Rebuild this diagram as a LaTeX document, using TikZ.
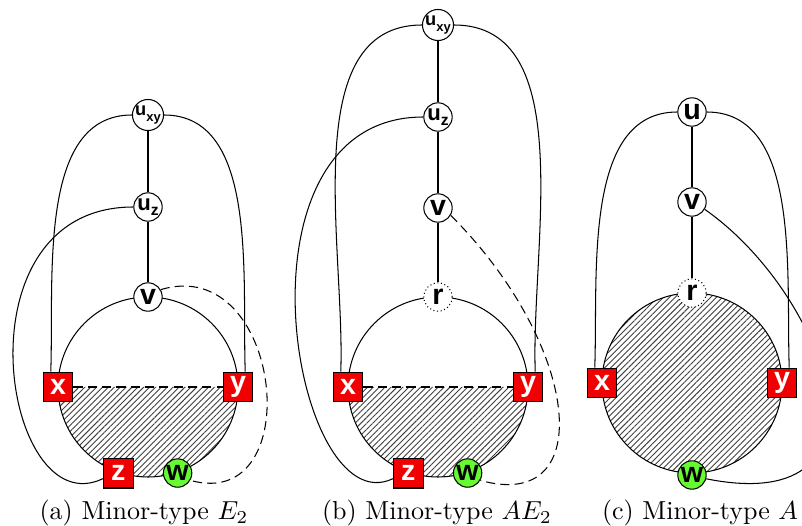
\documentclass[tikz,border=0pt]{standalone}
\usepackage{fontspec}
\newfontfamily\labelfont{Liberation Sans}
\usetikzlibrary{patterns.meta}
\definecolor{boxred}{RGB}{240,0,0}
\definecolor{wgreen}{RGB}{102,250,51}
\newcommand{\usub}[3]{{\fontsize{#1}{#1}\selectfont u}\raisebox{-.35ex}{\fontsize{#2}{#2}\selectfont #3}}

\begin{document}
\begin{tikzpicture}[x=0.0135cm,y=0.0135cm,
    every node/.append style={font=\labelfont\bfseries\fontsize{11}{11}\selectfont},
    vtx/.style={circle,draw,fill=white,inner sep=0pt,minimum size=10.9pt},
    rvtx/.style={vtx,densely dotted},
    wvtx/.style={vtx,fill=wgreen},
    term/.style={rectangle,draw,fill=boxred,text=white,inner sep=0pt,minimum size=11.5pt},
    hatch/.style={pattern={Lines[angle=45,distance=1.6pt,line width=0.35pt]},pattern color=black!75},
    dashcurve/.style={dash pattern=on 3.5pt off 2pt},
    caption/.style={font=\rmfamily\fontsize{10}{12}\selectfont}]
    \path[use as bounding box] (0,0) rectangle (802,525);

    % (a) minor-type E2
    \begin{scope}[shift={(148,138)}]
    \fill[hatch] (-90,0) arc[start angle=180,end angle=360,radius=90] -- cycle;
    \draw (0,0) circle[radius=90];
    \node[vtx] (va) at (0,90) {v};
    \node[vtx] (uza) at (0,180) {\usub{8.5}{6}{z}};
    \node[vtx] (uxya) at (0,272) {\usub{7}{5}{xy}};
    \node[term] (xa) at (-90,0) {x};
    \node[term] (ya) at (90,0) {y};
    \node[term] (za) at (251:91) {z};
    \node[wvtx] (wa) at (289:91) {w};
    \draw[dashcurve] (xa) -- (ya);
    \draw (uxya) -- (uza) -- (va);
    \draw (uxya.west) to[out=180,in=88,looseness=0.9] (xa.115);
    \draw (uxya.east) to[out=0,in=92,looseness=0.9] (ya.65);
    \draw (uza.west) .. controls +(-180,0) and +(-100,-48) .. (za.200);
    \draw[dashcurve] (va.30) .. controls +(122,37) and +(119,-33) .. (wa.-30);
    \node[caption] (capa) at (-4,-126) {(a) Minor-type $E_2$};
    \end{scope}

    % (b) minor-type AE2
    \begin{scope}[shift={(438,138)}]
    \fill[hatch] (-90,0) arc[start angle=180,end angle=360,radius=90] -- cycle;
    \draw (0,0) circle[radius=90];
    \node[rvtx] (rb) at (0,90) {r};
    \node[vtx] (vb) at (0,179) {v};
    \node[vtx] (uzb) at (0,270) {\usub{8.5}{6}{z}};
    \node[vtx] (uxyb) at (0,362) {\usub{7}{5}{xy}};
    \node[term] (xb) at (-90,0) {x};
    \node[term] (yb) at (90,0) {y};
    \node[term] (zb) at (251:91) {z};
    \node[wvtx] (wb) at (289:91) {w};
    \draw[dashcurve] (xb) -- (yb);
    \draw (uxyb) -- (uzb) -- (vb) -- (rb);
    \draw (uxyb.west) to[out=180,in=88,looseness=0.9] (xb.115);
    \draw (uxyb.east) to[out=0,in=92,looseness=0.9] (yb.65);
    \draw (uzb.west) .. controls +(-200,0) and +(-100,-48) .. (zb.200);
    \draw[dashcurve] (vb.-30) .. controls +(130,-130) and +(118,-33) .. (wb.-30);
    \node[caption] (capb) at (-1,-126) {(b) Minor-type $AE_2$};
    \end{scope}

    % (c) minor-type A
    \begin{scope}[shift={(692,142)}]
    \fill[hatch] (0,0) circle[radius=90];
    \draw (0,0) circle[radius=90];
    \node[rvtx] (rc) at (0,90) {r};
    \node[vtx] (vc) at (0,181) {v};
    \node[vtx] (uc) at (0,271) {u};
    \node[term] (xc) at (-90,0) {x};
    \node[term] (yc) at (90,0) {y};
    \node[wvtx] (wc) at (0,-92) {w};
    \draw (uc) -- (vc) -- (rc);
    \draw (uc.west) to[out=180,in=88,looseness=0.9] (xc.115);
    \draw (uc.east) to[out=0,in=92,looseness=0.9] (yc.65);
    \draw (vc.-30) .. controls +(123,-86) and +(200,-40) .. (wc.-15);
    \node[caption] (capc) at (8,-130) {(c) Minor-type $A$};
    \end{scope}
\end{tikzpicture}
\end{document}
